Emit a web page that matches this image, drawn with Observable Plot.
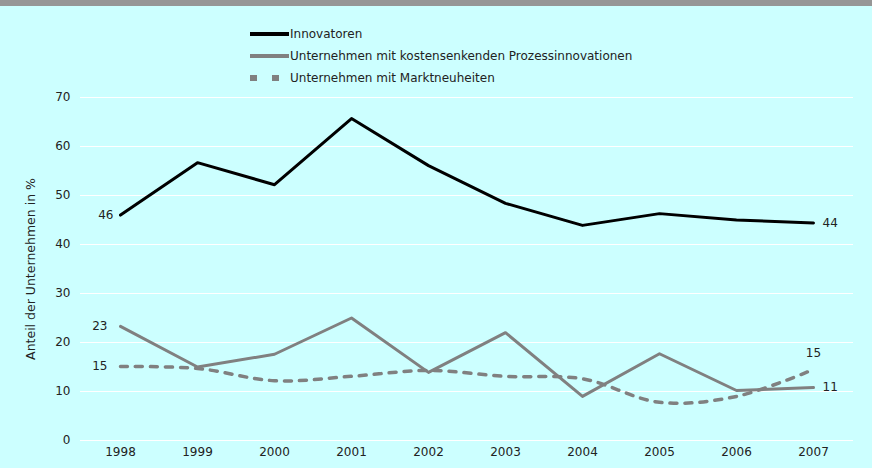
<!DOCTYPE html>
<html>
<head>
<meta charset="utf-8">
<script src="https://cdn.jsdelivr.net/npm/d3@7"></script>
<script src="https://cdn.jsdelivr.net/npm/@observablehq/plot@0.6"></script>
<style>
  html, body { margin: 0; padding: 0; background: #ccffff; width: 872px; height: 468px; overflow: hidden; font-family: "DejaVu Sans", Verdana, sans-serif; }
  #band { height: 6px; background: #969696; }
  #legend { height: 84px; box-sizing: border-box; padding-top: 17px; padding-left: 250px; font-size: 12px; color: #222; }
  .row { height: 22px; display: flex; align-items: center; }
  .sw { width: 39px; margin-right: 1px; }
  #chart svg { display: block; }
</style>
</head>
<body>
<div id="band"></div>
<div id="legend"></div>
<div id="chart"></div>
<script>
const years = ["1998","1999","2000","2001","2002","2003","2004","2005","2006","2007"];
const innovatoren = [46.0, 56.7, 52.2, 65.7, 56.1, 48.4, 43.9, 46.3, 45.0, 44.4];
const prozess     = [23.3, 15.0, 17.6, 25.0, 13.9, 22.0, 9.0, 17.7, 10.2, 10.8];
const markt       = [15.1, 14.7, 12.2, 13.1, 14.3, 13.1, 12.6, 7.8, 9.0, 14.5];
const seriesNames = ["Innovatoren", "Unternehmen mit kostensenkenden Prozessinnovationen", "Unternehmen mit Marktneuheiten"];
const yTicks = [0, 10, 20, 30, 40, 50, 60, 70];
const yLabel = "Anteil der Unternehmen in %";
const markt2007Label = "15";

// legend
const legendStyles = [
  "height: 4px; background: #000;",
  "height: 4px; background: #808080;",
  "height: 6px; background: repeating-linear-gradient(90deg,#808080 0 7px,transparent 7px 22px);"
];
const leg = document.getElementById("legend");
seriesNames.forEach((n, i) => {
  const r = document.createElement("div"); r.className = "row";
  const s = document.createElement("div"); s.className = "sw"; s.style.cssText = legendStyles[i];
  const t = document.createElement("span"); t.textContent = n;
  if (i === 2) t.style.marginLeft = "0px";
  r.appendChild(s); r.appendChild(t); leg.appendChild(r);
});

const mk = arr => years.map((y, i) => ({year: y, value: arr[i]}));
const dInn = mk(innovatoren), dPro = mk(prozess), dMar = mk(markt);
const last = years.length - 1;
const pt = (arr, i, text) => [{year: years[i], value: arr[i], text: text ?? String(Math.round(arr[i]))}];

const plot = Plot.plot({
  width: 872,
  height: 378,
  marginLeft: 80,
  marginRight: 19,
  marginTop: 7,
  marginBottom: 28,
  style: {background: "transparent", fontFamily: "DejaVu Sans, Verdana, sans-serif", fontSize: "12px", color: "#222"},
  x: {type: "point", domain: years, padding: 0.5},
  y: {domain: [0, 70]},
  marks: [
    Plot.gridY(yTicks, {stroke: "#ffffff", strokeOpacity: 1, strokeWidth: 1.2}),
    Plot.axisY(yTicks, {tickSize: 0, tickPadding: 10, label: null, fill: "#222"}),
    Plot.axisY({tickSize: 0, ticks: [], label: yLabel, labelAnchor: "center", labelArrow: "none", labelOffset: 54, fontSize: "12.5px", fill: "#222"}),
    Plot.axisX({tickSize: 0, tickPadding: 7, label: null, fill: "#222"}),
    Plot.line(dMar, {x: "year", y: "value", stroke: "#808080", strokeWidth: 3.5, strokeDasharray: "7,8", curve: "catmull-rom"}),
    Plot.line(dPro, {x: "year", y: "value", stroke: "#808080", strokeWidth: 3}),
    Plot.line(dInn, {x: "year", y: "value", stroke: "#000", strokeWidth: 3}),
    Plot.text(pt(innovatoren, 0), {x: "year", y: "value", text: "text", dx: -7, textAnchor: "end", fill: "#222"}),
    Plot.text(pt(prozess, 0), {x: "year", y: "value", text: "text", dx: -13, textAnchor: "end", fill: "#222"}),
    Plot.text(pt(markt, 0), {x: "year", y: "value", text: "text", dx: -13, textAnchor: "end", fill: "#222"}),
    Plot.text(pt(innovatoren, last), {x: "year", y: "value", text: "text", dx: 9, textAnchor: "start", fill: "#222"}),
    Plot.text(pt(prozess, last), {x: "year", y: "value", text: "text", dx: 9, textAnchor: "start", fill: "#222"}),
    Plot.text(pt(markt, last, markt2007Label), {x: "year", y: "value", text: "text", dy: -16, textAnchor: "middle", fill: "#222"})
  ]
});
document.getElementById("chart").appendChild(plot);
</script>
</body>
</html>
